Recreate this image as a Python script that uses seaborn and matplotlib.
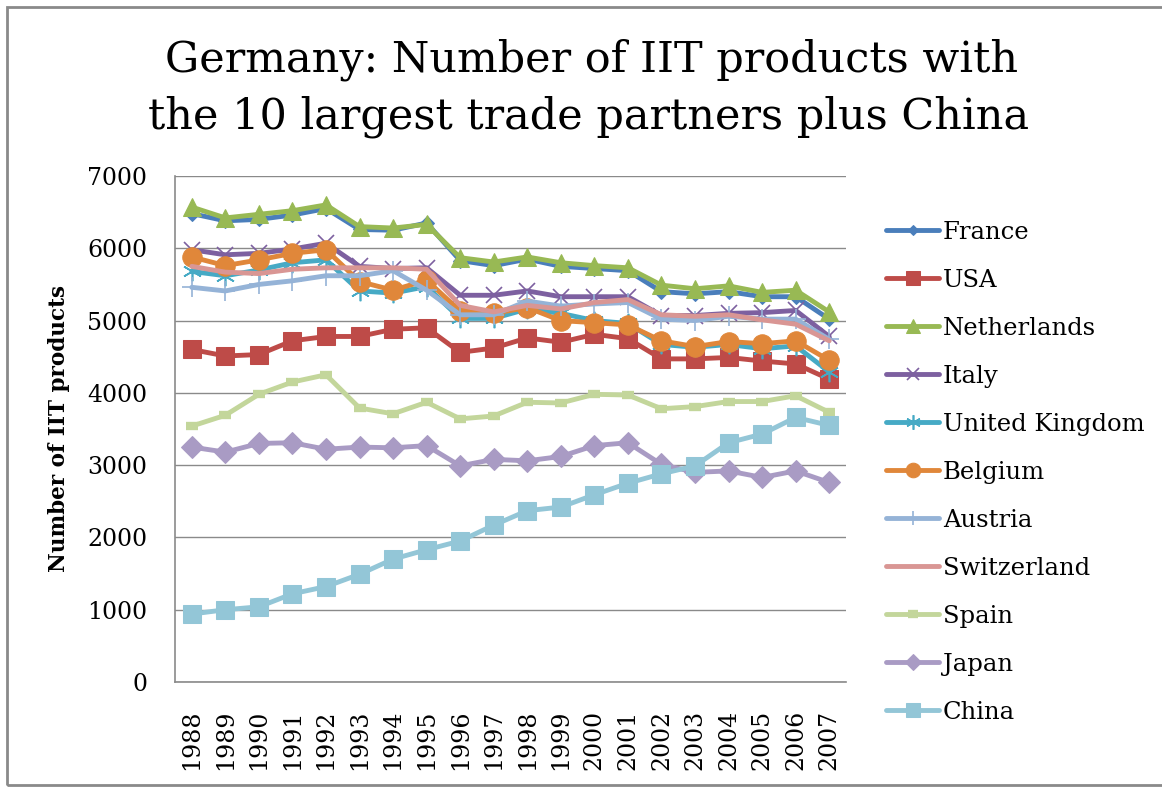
import numpy as np
import pandas as pd
import matplotlib
matplotlib.use("Agg")
import matplotlib.pyplot as plt
import seaborn as sns
from matplotlib.patches import Rectangle

years = list(range(1988, 2008))

france = [6480, 6380, 6400, 6460, 6550, 6260, 6250, 6350, 5830, 5760,
          5850, 5750, 5720, 5690, 5400, 5370, 5400, 5330, 5330, 5020]
usa = [4600, 4510, 4530, 4720, 4780, 4780, 4880, 4900, 4560, 4620,
       4760, 4700, 4810, 4750, 4470, 4470, 4490, 4440, 4400, 4190]
netherlands = [6570, 6420, 6470, 6520, 6600, 6300, 6280, 6330, 5870, 5810,
               5880, 5800, 5760, 5730, 5490, 5440, 5480, 5390, 5420, 5120]
italy = [5980, 5910, 5930, 5990, 6070, 5750, 5720, 5730, 5350, 5350,
         5410, 5330, 5330, 5330, 5070, 5070, 5100, 5110, 5140, 4780]
uk = [5680, 5620, 5700, 5800, 5840, 5410, 5380, 5470, 5030, 5030,
      5160, 5100, 5000, 4960, 4670, 4630, 4670, 4610, 4650, 4290]
belgium = [5880, 5760, 5840, 5930, 5980, 5540, 5420, 5560, 5130, 5100,
           5180, 5000, 4970, 4940, 4720, 4640, 4710, 4680, 4720, 4450]
austria = [5460, 5410, 5500, 5550, 5620, 5620, 5690, 5420, 5080, 5080,
           5270, 5200, 5230, 5250, 5020, 5000, 5060, 5020, 5020, 4740]
switzerland = [5750, 5670, 5650, 5710, 5730, 5730, 5730, 5710, 5210, 5120,
               5210, 5160, 5250, 5290, 5080, 5060, 5080, 5010, 4950, 4720]
spain = [3540, 3690, 3980, 4150, 4250, 3790, 3710, 3870, 3640, 3680,
         3870, 3860, 3980, 3970, 3780, 3810, 3880, 3880, 3960, 3730]
japan = [3250, 3180, 3300, 3310, 3220, 3250, 3240, 3270, 2990, 3080,
         3060, 3120, 3270, 3310, 3010, 2900, 2920, 2830, 2920, 2760]
china = [940, 1000, 1040, 1220, 1320, 1490, 1700, 1830, 1950, 2170,
         2370, 2420, 2590, 2750, 2880, 2990, 3310, 3430, 3660, 3550]

series = [
    ("France", france, "#4A7EBB", "D", 7),
    ("USA", usa, "#BE4B48", "s", 13),
    ("Netherlands", netherlands, "#98B954", "^", 13),
    ("Italy", italy, "#7D60A0", "x", 12),
    ("United Kingdom", uk, "#46AAC5", (6, 2, 0), 14),
    ("Belgium", belgium, "#E0873A", "o", 14),
    ("Austria", austria, "#95B3D7", "+", 14),
    ("Switzerland", switzerland, "#D99694", None, 0),
    ("Spain", spain, "#C3D69B", "_", 9),
    ("Japan", japan, "#A99BC4", "D", 11),
    ("China", china, "#93C6D7", "s", 13),
]

sns.set_theme(style="white")
plt.rcParams["font.family"] = ["DejaVu Serif"]
for key in ("text.color", "axes.labelcolor", "xtick.color", "ytick.color"):
    plt.rcParams[key] = "black"

fig = plt.figure(figsize=(11.62, 7.91), dpi=100)
ax = fig.add_axes([175 / 1162, 1 - 682 / 791, 671 / 1162, 506 / 791])

for name, vals, color, marker, ms in series:
    kw = dict(color=color, linewidth=3.5, label=name)
    if marker is not None:
        kw.update(marker=marker, markersize=ms, markeredgecolor=color)
        if marker in ("x", "+", (6, 2, 0)):
            kw["markeredgewidth"] = 1.2
        elif marker == "_":
            kw["markeredgewidth"] = 6
    sns.lineplot(x=years, y=vals, ax=ax, **kw)

ax.set_xlim(1987.5, 2007.5)
ax.set_ylim(0, 7000)
ax.set_yticks(range(0, 7001, 1000))
ax.set_xticks(years)
ax.set_xticklabels([str(y) for y in years], rotation=90, fontsize=17)
ax.tick_params(axis="y", labelsize=17, pad=20, length=0)
ax.tick_params(axis="x", pad=20, length=0)
ax.yaxis.grid(True, color="#8a8a8a", linewidth=1)
ax.xaxis.grid(False)
for side in ("top", "right"):
    ax.spines[side].set_visible(False)
for side in ("left", "bottom"):
    ax.spines[side].set_color("#8a8a8a")
    ax.spines[side].set_linewidth(1.2)
ax.set_xlabel("")
ax.set_ylabel("Number of IIT products", fontsize=15.5, fontweight="bold", labelpad=12)
if ax.get_legend():
    ax.get_legend().remove()

handles, labels = ax.get_legend_handles_labels()
fig.legend(handles, labels, loc="center left", bbox_to_anchor=(0.752, 0.403),
           frameon=False, fontsize=17.5, labelspacing=1.03, handlelength=2.2,
           handletextpad=0.15, borderpad=0, markerscale=0.75)

fig.text(592 / 1162, 1 - 60 / 791, "Germany: Number of IIT products with",
         ha="center", va="center", fontsize=31)
fig.text(589 / 1162, 1 - 117 / 791, "the 10 largest trade partners plus China",
         ha="center", va="center", fontsize=31)

fig.patches.append(Rectangle((7 / 1162, 6 / 791), 1.2, 1 - 13 / 791,
                             transform=fig.transFigure, fill=False,
                             edgecolor="#8a8a8a", linewidth=2))

fig.savefig("out.png", dpi=100)
